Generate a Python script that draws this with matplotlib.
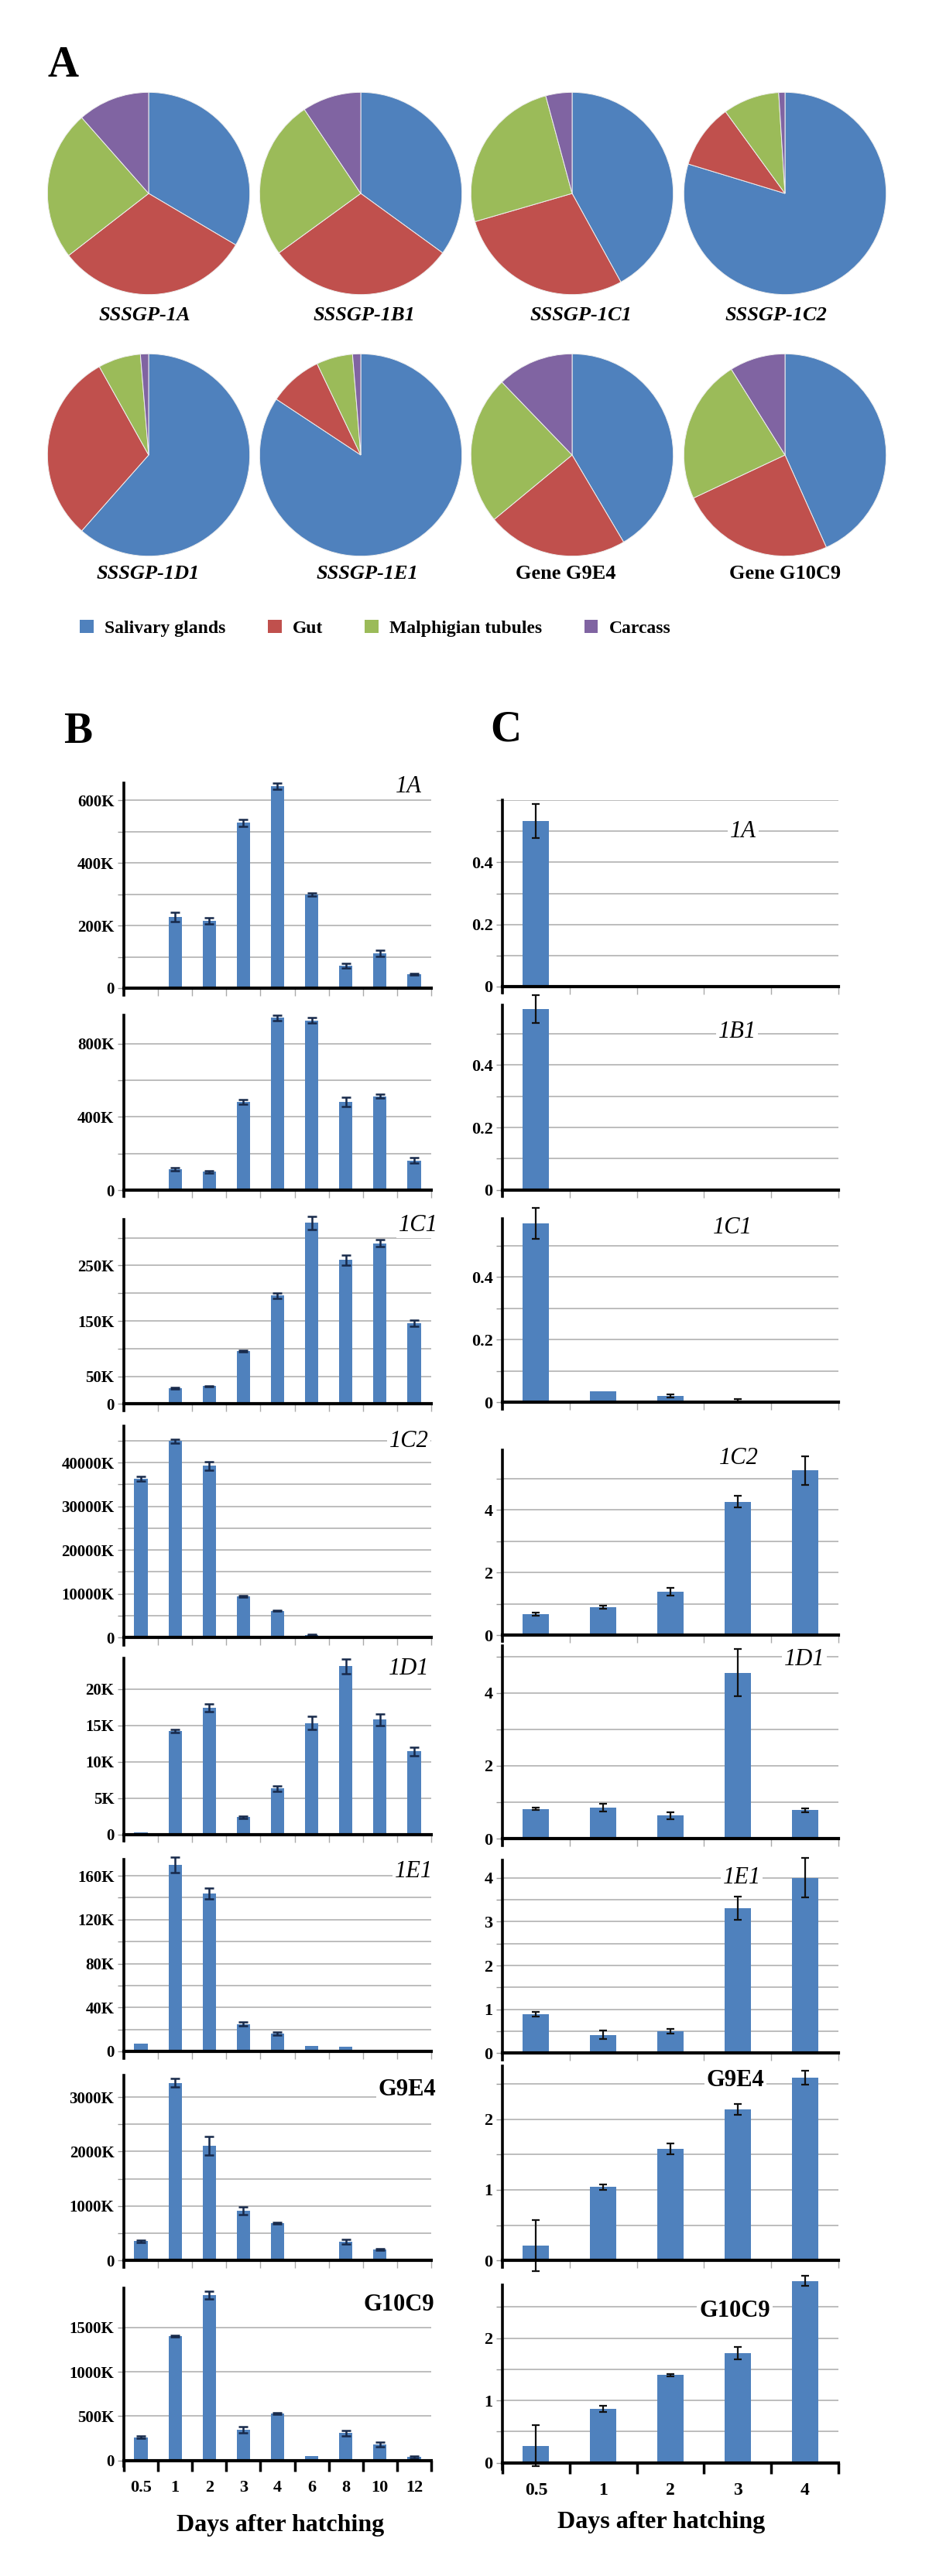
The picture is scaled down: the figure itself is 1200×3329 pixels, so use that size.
import numpy as np
import matplotlib
matplotlib.use('Agg')
import matplotlib.pyplot as plt
from matplotlib.patches import Patch

W, H = 1200, 3329
SERIF = ['Liberation Serif', 'DejaVu Serif']
BLUE = '#4F81BD'

# ---------------- data ----------------
tissues = ['Salivary glands', 'Gut', 'Malphigian tubules', 'Carcass']
tissue_colors = ['#4F81BD', '#C0504D', '#9BBB59', '#8064A2']

pie_genes = ['SSSGP-1A', 'SSSGP-1B1', 'SSSGP-1C1', 'SSSGP-1C2',
             'SSSGP-1D1', 'SSSGP-1E1', 'Gene G9E4', 'Gene G10C9']
pie_1A = [33.5, 31.0, 24.0, 11.5]
pie_1B1 = [35.0, 30.0, 25.6, 9.4]
pie_1C1 = [42.0, 28.5, 25.3, 4.2]
pie_1C2 = [79.7, 10.3, 9.0, 1.0]
pie_1D1 = [61.5, 30.4, 6.8, 1.3]
pie_1E1 = [84.3, 8.6, 5.8, 1.3]
pie_G9E4 = [41.5, 22.5, 23.8, 12.2]
pie_G10C9 = [43.3, 24.7, 23.1, 8.9]
pie_values = [pie_1A, pie_1B1, pie_1C1, pie_1C2, pie_1D1, pie_1E1, pie_G9E4, pie_G10C9]

genes = ['1A', '1B1', '1C1', '1C2', '1D1', '1E1', 'G9E4', 'G10C9']
days_B = ['0.5', '1', '2', '3', '4', '6', '8', '10', '12']
days_C = ['0.5', '1', '2', '3', '4']

# Panel B (values in K)
B_1A = [0, 227, 216, 528, 645, 299, 72, 112, 44]
B_1A_err = [0, 15, 10, 12, 10, 4, 8, 10, 3]
B_1B1 = [0, 115, 101, 482, 941, 927, 482, 512, 161]
B_1B1_err = [0, 8, 6, 12, 15, 15, 25, 10, 15]
B_1C1 = [0, 28.5, 32, 95, 196, 327, 260, 290, 146]
B_1C1_err = [0, 1, 1, 1.5, 5, 12, 9, 6, 6]
B_1C2 = [36370, 44940, 39270, 9470, 6070, 600, 0, 200, 0]
B_1C2_err = [500, 400, 1000, 150, 100, 100, 0, 50, 0]
B_1D1 = [0.3, 14.2, 17.4, 2.4, 6.3, 15.3, 23.1, 15.8, 11.4]
B_1D1_err = [0, 0.2, 0.5, 0.15, 0.4, 0.9, 1.0, 0.8, 0.6]
B_1E1 = [7.2, 170, 144, 25, 16, 5, 4, 1, 0]
B_1E1_err = [0, 7, 5, 2, 1.5, 0, 0, 0, 0]
B_G9E4 = [355, 3258, 2104, 918, 686, 10, 343, 206, 10]
B_G9E4_err = [20, 80, 170, 70, 10, 0, 40, 15, 0]
B_G10C9 = [260, 1401, 1866, 349, 529, 50, 307, 177, 35]
B_G10C9_err = [15, 10, 40, 35, 10, 0, 30, 25, 10]

# Panel C
C_1A = [0.532, 0, 0, 0, 0]
C_1A_err = [0.055, 0, 0, 0, 0]
C_1B1 = [0.58, 0, 0, 0, 0]
C_1B1_err = [0.044, 0, 0, 0, 0]
C_1C1 = [0.571, 0.036, 0.021, 0.007, 0]
C_1C1_err = [0.05, 0, 0.004, 0.003, 0]
C_1C2 = [0.67, 0.89, 1.39, 4.26, 5.25]
C_1C2_err = [0.05, 0.05, 0.13, 0.18, 0.46]
C_1D1 = [0.81, 0.85, 0.63, 4.55, 0.78]
C_1D1_err = [0.03, 0.1, 0.1, 0.65, 0.05]
C_1E1 = [0.89, 0.42, 0.5, 3.31, 4.0]
C_1E1_err = [0.06, 0.1, 0.05, 0.26, 0.45]
C_G9E4 = [0.21, 1.04, 1.58, 2.14, 2.59]
C_G9E4_err = [0.36, 0.04, 0.08, 0.08, 0.1]
C_G10C9 = [0.27, 0.86, 1.41, 1.76, 2.92]
C_G10C9_err = [0.33, 0.05, 0.02, 0.1, 0.08]

B_vals = [B_1A, B_1B1, B_1C1, B_1C2, B_1D1, B_1E1, B_G9E4, B_G10C9]
B_errs = [B_1A_err, B_1B1_err, B_1C1_err, B_1C2_err, B_1D1_err, B_1E1_err, B_G9E4_err, B_G10C9_err]
C_vals = [C_1A, C_1B1, C_1C1, C_1C2, C_1D1, C_1E1, C_G9E4, C_G10C9]
C_errs = [C_1A_err, C_1B1_err, C_1C1_err, C_1C2_err, C_1D1_err, C_1E1_err, C_G9E4_err, C_G10C9_err]

B_ymax = [655, 955, 333, 48400, 24.2, 174.7, 3402, 1943]
B_grid = [100, 200, 50, 5000, 5, 20, 500, 500]
B_ticklabels = [[0, 200, 400, 600], [0, 400, 800], [0, 50, 150, 250],
                [0, 10000, 20000, 30000, 40000], [0, 5, 10, 15, 20],
                [0, 40, 80, 120, 160], [0, 1000, 2000, 3000], [0, 500, 1000, 1500]]
C_ymax = [0.6, 0.593, 0.585, 5.91, 5.28, 4.40, 2.755, 2.85]
C_grid = [0.1, 0.1, 0.1, 1, 1, 0.5, 0.5, 0.5]
C_ticklabels = [[0, 0.2, 0.4], [0, 0.2, 0.4], [0, 0.2, 0.4], [0, 2, 4], [0, 2, 4],
                [0, 1, 2, 3, 4], [0, 1, 2], [0, 1, 2]]

# ---------------- layout (pixels) ----------------
B_x0, B_x1 = 160, 557
C_x0, C_x1 = 649, 1083
B_top = [1012, 1312, 1576, 1842.7, 2143, 2403.3, 2681.7, 2957.2]
B_bot = [1277, 1538, 1814.4, 2116.2, 2370.7, 2651, 2921.2, 3179.5]
C_top = [1034, 1298.6, 1575.2, 1873.7, 2127.4, 2404.2, 2669.9, 2953.3]
C_bot = [1275, 1537.7, 1812.4, 2113.1, 2376, 2653.3, 2921.2, 3182.6]
B_lab = [(528, 1016), None, (540, 1583), (528, 1863), (528, 2156), (534, 2419), (526, 2701), (515, 2978)]
C_lab = [(960, 1074), (952, 1333), (946, 1587), (954, 1884), (1039, 2145), (958, 2427), (950, 2688), (949, 2987)]

pie_cx = [192, 466, 739, 1014]
pie_cy = [250, 588]
pie_lx = [187, 470, 750, 1002, 191, 474, 731, 1014]
pie_ly = [407, 742]
R = 132


def fx(px):
    return px / W


def fy(py):
    return 1 - py / H


fig = plt.figure(figsize=(W / 100, H / 100), dpi=100)
fig.patch.set_facecolor('white')

# ---------------- A: pies ----------------
for i, (gname, vals) in enumerate(zip(pie_genes, pie_values)):
    cx = pie_cx[i % 4]
    cy = pie_cy[i // 4]
    ax = fig.add_axes([fx(cx - R), fy(cy + R), 2 * R / W, 2 * R / H])
    ax.pie(vals, colors=tissue_colors, startangle=90, counterclock=False,
           wedgeprops=dict(edgecolor='#eeeeee', linewidth=0.7))
    ax.set_xlim(-1.01, 1.01)
    ax.set_ylim(-1.01, 1.01)
    ax.set_aspect('equal')
    italic = gname.startswith('SSSGP')
    fig.text(fx(pie_lx[i]), fy(pie_ly[i // 4]), gname, ha='center', va='center',
             family=SERIF, weight='bold', style='italic' if italic else 'normal', size=19)

fig.legend(handles=[Patch(facecolor=c, edgecolor='none') for c in tissue_colors], labels=tissues,
           loc='center left', bbox_to_anchor=(fx(82), fy(812)), ncol=4, frameon=False,
           prop=dict(family=SERIF, weight='bold', size=17), handlelength=0.75, handleheight=0.75,
           handletextpad=0.6, columnspacing=2.3)

for letter, (px, py) in zip(['A', 'B', 'C'], [(82, 85), (101, 946), (653, 944)]):
    fig.text(fx(px), fy(py), letter, ha='center', va='center', family=SERIF, weight='bold', size=40)


# ---------------- bar panels ----------------
def panel(x0, x1, ytop, ybot, ymax, vals, errs, grid, labs, fmt, days, bottom,
          ecolor, elw, capsize, tick_fs, xtick_fs):
    ax = fig.add_axes([fx(x0), fy(ybot), (x1 - x0) / W, (ybot - ytop) / H])
    n = len(vals)
    x = np.arange(n)
    vals = np.asarray(vals, float)
    errs = np.asarray(errs, float)
    ax.bar(x, vals, width=0.39, color=BLUE, zorder=3, clip_on=False)
    m = errs > 0
    if m.any():
        eb = ax.errorbar(x[m], vals[m], yerr=errs[m], fmt='none', ecolor=ecolor, elinewidth=elw,
                         capsize=capsize, capthick=elw, zorder=4)
        for a in eb.get_children():
            a.set_clip_on(False)
    ax.set_xlim(-0.5, n - 0.5)
    ax.set_ylim(0, ymax)
    yt = np.arange(0, ymax + 1e-9, grid)
    ax.set_yticks(yt)
    ax.set_yticklabels([fmt(v) if any(np.isclose(v, l) for l in labs) else '' for v in yt],
                       family=SERIF, weight='bold', size=tick_fs)
    ax.yaxis.grid(True, color='#b8b8b8', linewidth=1.3, zorder=0)
    ax.set_axisbelow(True)
    ax.tick_params(axis='y', length=6, width=1, color='#999999', pad=3)
    ax.set_xticks(np.arange(-0.5, n, 1), minor=True)
    ax.set_xticks(x)
    if bottom:
        ax.set_xticklabels(days, family=SERIF, weight='bold', size=xtick_fs)
        ax.tick_params(axis='x', which='minor', length=10, width=2.5, color='black')
        ax.tick_params(axis='x', which='major', length=0, pad=18)
    else:
        ax.set_xticklabels([])
        ax.tick_params(axis='x', which='minor', length=7, width=1, color='#aaaaaa')
        ax.tick_params(axis='x', which='major', length=0)
    for s in ['top', 'right']:
        ax.spines[s].set_visible(False)
    ax.spines['left'].set_linewidth(2.6)
    ax.spines['bottom'].set_linewidth(3)
    ax.spines['left'].set_zorder(5)
    ax.spines['bottom'].set_zorder(5)
    ax.spines['left'].set_bounds(-0.035 * ymax, ymax)
    return ax


def fmtK(v):
    return '0' if v == 0 else f'{v:g}K'


def fmtC(v):
    return f'{v:g}'


for i, g in enumerate(genes):
    bottom = (i == len(genes) - 1)
    panel(B_x0, B_x1, B_top[i], B_bot[i], B_ymax[i], B_vals[i], B_errs[i], B_grid[i],
          B_ticklabels[i], fmtK, days_B, bottom, '#17294a', 1.8, 4.0, 15, 16)
    panel(C_x0, C_x1, C_top[i], C_bot[i], C_ymax[i], C_vals[i], C_errs[i], C_grid[i],
          C_ticklabels[i], fmtC, days_C, bottom, '#111111', 1.6, 3.5, 16, 17)
    italic = not g.startswith('G')
    for pos in (B_lab[i], C_lab[i]):
        if pos is None:
            continue
        fig.text(fx(pos[0]), fy(pos[1]), g, ha='center', va='center', family=SERIF,
                 style='italic' if italic else 'normal', weight='normal' if italic else 'bold',
                 size=22, zorder=10,
                 bbox=dict(facecolor='white', edgecolor='none', pad=2))

fig.text(fx(362), fy(3264), 'Days after hatching', ha='center', va='center', family=SERIF,
         weight='bold', size=23)
fig.text(fx(854), fy(3260), 'Days after hatching', ha='center', va='center', family=SERIF,
         weight='bold', size=23)

fig.savefig('out.png', dpi=100, facecolor='white')
